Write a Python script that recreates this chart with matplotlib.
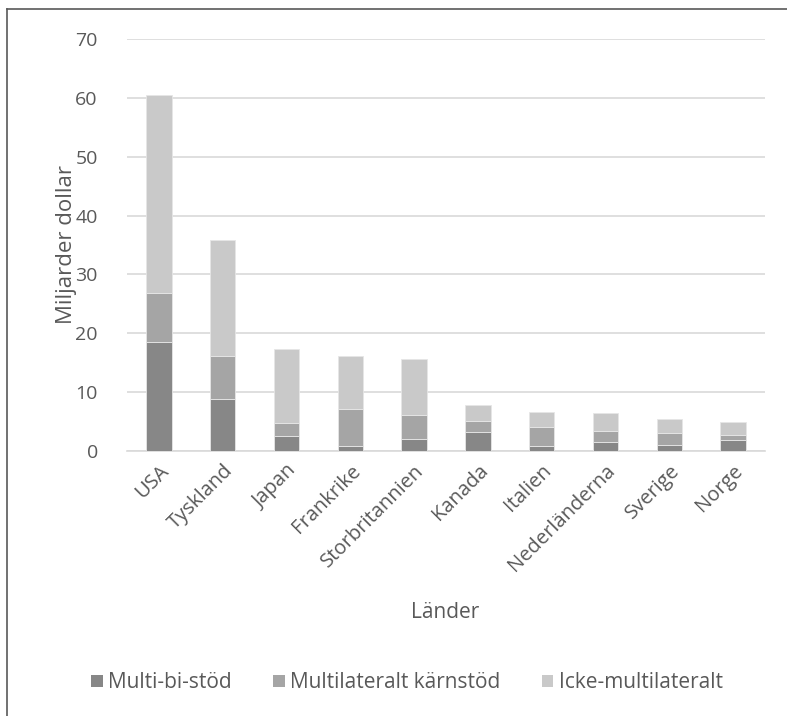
import matplotlib
matplotlib.use("Agg")
import matplotlib.pyplot as plt
from matplotlib.lines import Line2D
from matplotlib.patches import Patch
import numpy as np

plt.rcParams['font.family'] = ['Open Sans', 'DejaVu Sans']

countries = ["USA", "Tyskland", "Japan", "Frankrike", "Storbritannien",
             "Kanada", "Italien", "Nederländerna", "Sverige", "Norge"]
multi_bi = [18.5, 8.8, 2.5, 0.9, 2.1, 3.2, 0.85, 1.5, 1.1, 1.8]
karnstod = [8.4, 7.3, 2.3, 6.2, 4.0, 1.9, 3.25, 1.95, 2.0, 1.0]
icke_multi = [33.6, 19.7, 12.6, 9.0, 9.6, 2.7, 2.6, 2.95, 2.3, 2.2]
series_names = ["Multi-bi-stöd", "Multilateralt kärnstöd", "Icke-multilateralt"]
colors = ["#878787", "#a5a5a5", "#c9c9c9"]
yticks = [0, 10, 20, 30, 40, 50, 60, 70]

text_color = "#595959"

fig = plt.figure(figsize=(7.87, 7.16), dpi=100)
ax = fig.add_axes([127/787, 1-451/716, (765-127)/787, (451-39)/716])

x = np.arange(len(countries))
bottom = np.zeros(len(countries))
for vals, col, name in zip([multi_bi, karnstod, icke_multi], colors, series_names):
    ax.bar(x, vals, width=0.4, bottom=bottom, color=col, edgecolor="#e6e6e6",
           linewidth=0.6, label=name, zorder=3)
    bottom += np.array(vals)

ax.set_xlim(-0.5, len(countries) - 0.5)
ax.set_ylim(0, 70)
ax.set_yticks(yticks)
ax.set_yticklabels([str(t) for t in yticks], fontsize=14, color=text_color)
ax.yaxis.grid(True, color="#d9d9d9", linewidth=1.2, zorder=0)
ax.tick_params(axis='y', length=0, pad=21)
ax.tick_params(axis='x', length=0, pad=7)
ax.set_xticks(x)
ax.set_xticklabels(countries, rotation=45, ha='right', rotation_mode='anchor',
                   fontsize=14.5, color=text_color)
for s in ["top", "right", "left"]:
    ax.spines[s].set_visible(False)
ax.spines["bottom"].set_color("#d9d9d9")
ax.spines["bottom"].set_linewidth(1.2)

ax.set_ylabel("Miljarder dollar", fontsize=16, color=text_color, labelpad=-1)
fig.text(445/787, 1-612/716, "Länder", ha='center', va='center',
         fontsize=15, color=text_color)

handles = [Patch(facecolor=c, edgecolor='none') for c in colors]
fig.legend(handles, series_names, loc='center', bbox_to_anchor=(407/787, 1-683/716),
           ncol=3, frameon=False, fontsize=15, handlelength=0.55, handleheight=0.55,
           handletextpad=0.25, columnspacing=2.0, labelcolor=text_color)

# outer frame lines (left and top)
fig.add_artist(Line2D([7/787, 7/787], [0, 1-9/716], color="#595959", linewidth=1.2,
                      transform=fig.transFigure))
fig.add_artist(Line2D([7/787, 1], [1-9/716, 1-9/716], color="#595959", linewidth=1.2,
                      transform=fig.transFigure))

fig.savefig("out.png", dpi=100)
